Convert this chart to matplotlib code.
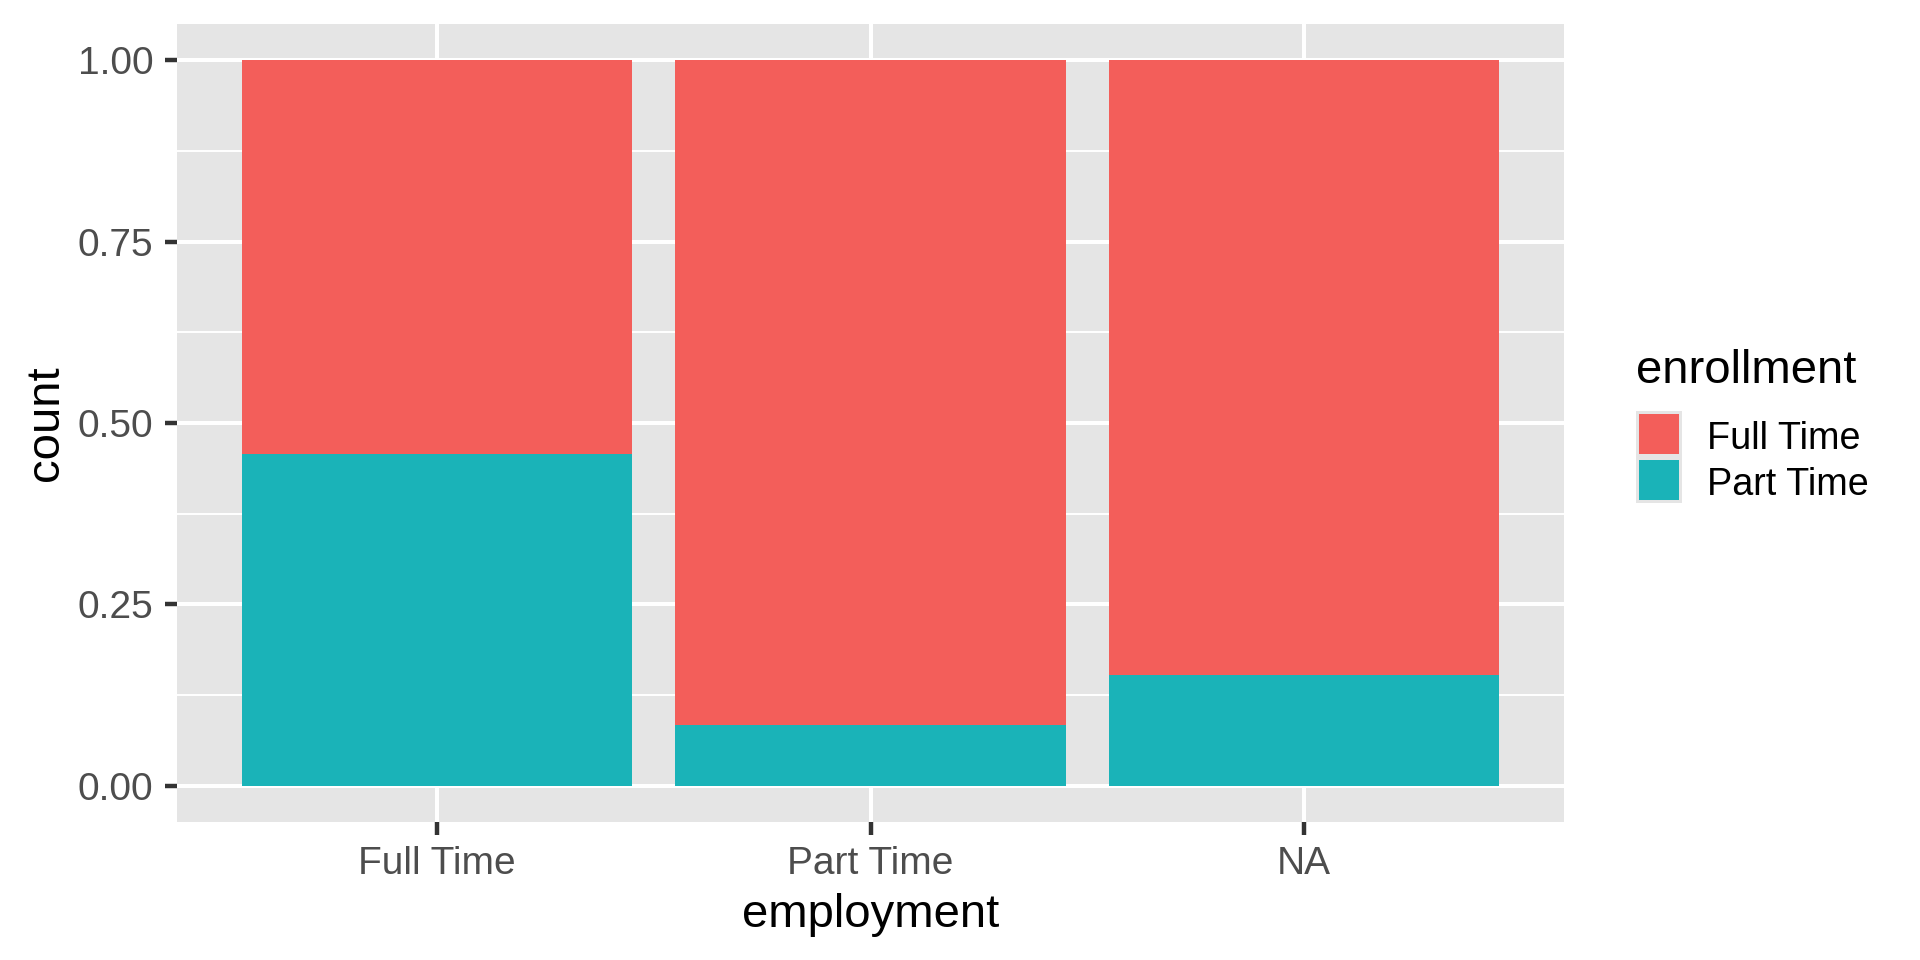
import numpy as np
import matplotlib
matplotlib.use("Agg")
import matplotlib.pyplot as plt
from matplotlib.patches import Rectangle

plt.rcParams['font.family'] = ['Liberation Sans', 'DejaVu Sans']

# data (proportions)
employment = ["Full Time", "Part Time", "NA"]
part_time = [0.457, 0.084, 0.152]
full_time = [1 - v for v in part_time]
enrollment = ["Full Time", "Part Time"]
red = "#F35E5A"
teal = "#1AB3B8"
fills = [red, teal]

W, H = 1920, 960
fig = plt.figure(figsize=(9.6, 4.8), dpi=200)
# panel in pixels: left 177, right 1564, top 24, bottom 822
ax = fig.add_axes([177 / W, 1 - 822 / H, (1564 - 177) / W, (822 - 24) / H])
ax.set_facecolor("#E5E5E5")

x = np.arange(len(employment))
ax.bar(x, part_time, width=0.9, color=teal, zorder=3)
ax.bar(x, full_time, width=0.9, bottom=part_time, color=red, zorder=3)

ax.set_xlim(-0.6, 2.6)
ax.set_ylim(-0.05, 1.05)
ax.set_xticks(x)
ax.set_xticklabels(employment)
ax.set_yticks([0, 0.25, 0.5, 0.75, 1.0])
ax.set_yticklabels(["0.00", "0.25", "0.50", "0.75", "1.00"])
ax.set_yticks([0.125, 0.375, 0.625, 0.875], minor=True)

ax.set_axisbelow(True)
ax.grid(which="major", color="white", linewidth=1.45)
ax.grid(which="minor", axis="y", color="white", linewidth=0.7)
for s in ax.spines.values():
    s.set_visible(False)

ax.tick_params(which="major", length=4.5, width=1.6, color="#333333",
               labelsize=14, labelcolor="#4D4D4D", pad=4)
ax.tick_params(which="minor", length=0)

ax.set_xlabel("employment", fontsize=17, va="baseline")
ax.xaxis.set_label_coords(0.5, -(927 - 822) / (822 - 24))
ax.set_ylabel("count", fontsize=17, va="baseline")
ax.yaxis.set_label_coords(-(177 - 58) / (1564 - 177), 0.5)

# legend
fig.text(1636 / W, 1 - 383 / H, "enrollment", fontsize=17, va="baseline")
key = 46
for i, (lab, col) in enumerate(zip(enrollment, fills)):
    top = 411 + i * key
    fig.add_artist(Rectangle((1636 / W, 1 - (top + key) / H), key / W, key / H,
                             transform=fig.transFigure, facecolor="#E5E5E5",
                             edgecolor="none"))
    fig.add_artist(Rectangle((1639 / W, 1 - (top + key - 3) / H), 40 / W, 40 / H,
                             transform=fig.transFigure, facecolor=col,
                             edgecolor="none"))
    fig.text(1707 / W, 1 - (top + 38) / H, lab, fontsize=13.6, va="baseline")

fig.savefig("out.png", dpi=200)
